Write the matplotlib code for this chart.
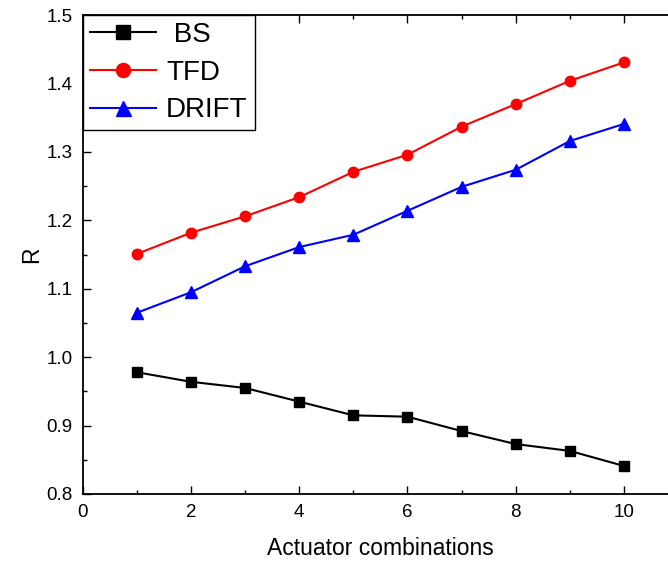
import matplotlib.pyplot as plt
from matplotlib.ticker import MultipleLocator

plt.rcParams['font.family'] = ['Liberation Sans', 'DejaVu Sans']

combos = [1, 2, 3, 4, 5, 6, 7, 8, 9, 10]
bs = [0.978, 0.964, 0.955, 0.935, 0.915, 0.913, 0.892, 0.873, 0.863, 0.841]
tfd = [1.151, 1.182, 1.206, 1.234, 1.271, 1.296, 1.337, 1.370, 1.404, 1.431]
drift = [1.065, 1.095, 1.133, 1.161, 1.179, 1.214, 1.249, 1.274, 1.316, 1.341]

fig = plt.figure(figsize=(6.68, 5.62), dpi=100)
ax = fig.add_axes([0.124, 0.121, 0.891, 0.852])

ax.plot(combos, bs, color='black', marker='s', markersize=7, linewidth=1.5, label=' BS')
ax.plot(combos, tfd, color='red', marker='o', markersize=7.5, linewidth=1.5, label='TFD')
ax.plot(combos, drift, color='blue', marker='^', markersize=8, linewidth=1.5, label='DRIFT')

ax.set_xlim(0, 11)
ax.set_ylim(0.8, 1.5)
ax.xaxis.set_major_locator(MultipleLocator(2))
ax.xaxis.set_minor_locator(MultipleLocator(1))
ax.yaxis.set_major_locator(MultipleLocator(0.1))
ax.yaxis.set_minor_locator(MultipleLocator(0.05))
ax.yaxis.set_major_formatter(plt.FormatStrFormatter('%.1f'))
ax.tick_params(which='both', direction='in', top=True, right=True, labelsize=13.5)
ax.tick_params(which='major', length=6, width=1, pad=7.5)
ax.tick_params(which='minor', length=3, width=1)
for s in ax.spines.values():
    s.set_linewidth(1.3)

ax.set_xlabel('Actuator combinations', fontsize=16.5, labelpad=11)
ax.set_ylabel('R', fontsize=16.5, labelpad=2)

leg = ax.legend(loc='upper left', fontsize=20, handlelength=2.4, borderaxespad=0,
                fancybox=False, edgecolor='black', framealpha=1, markerscale=1.35,
                handletextpad=0.35, labelspacing=0.42, borderpad=0.25)
leg.get_frame().set_linewidth(1)

fig.savefig('out.png', dpi=100)
